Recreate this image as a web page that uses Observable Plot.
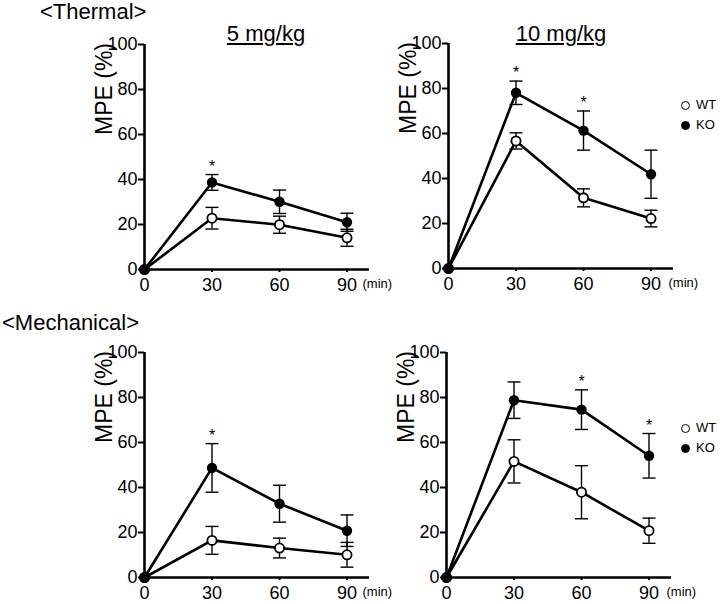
<!DOCTYPE html>
<html>
<head>
<meta charset="utf-8">
<script src="https://cdn.jsdelivr.net/npm/d3@7"></script>
<script src="https://cdn.jsdelivr.net/npm/@observablehq/plot@0.6"></script>
<style>
  html, body { margin: 0; padding: 0; background: white; }
  #root { position: relative; width: 720px; height: 604px; overflow: hidden; font-family: "Liberation Sans", Arial, Helvetica, sans-serif; color: black; }
  .abs { position: absolute; white-space: nowrap; }
  .sec { font-size: 22px; line-height: 24px; }
  .ttl { font-size: 22px; line-height: 22px; text-decoration: underline; text-underline-offset: 2px; text-decoration-thickness: 1.5px; transform: translateX(-50%); }
  .leg { font-size: 13px; line-height: 14px; display: flex; align-items: center; }
  .leg .c { display: inline-block; width: 7px; height: 7px; border: 1.5px solid black; border-radius: 50%; margin-right: 6px; background: white; }
  .leg .c.f { background: black; }
</style>
</head>
<body>
<div id="root"></div>
<script>
// ---- data ----
const times = [0, 30, 60, 90];
const yTicks = [0, 20, 40, 60, 80, 100];
const xTicks = [0, 30, 60, 90];

// Thermal, 5 mg/kg
const thermal5WT   = [0, 22.8, 19.9, 14.1];
const thermal5WTse = [0, 4.8, 3.8, 3.8];
const thermal5KO   = [0, 38.7, 30.1, 21.0];
const thermal5KOse = [0, 3.5, 5.2, 4.0];
const thermal5Star = [false, true, false, false];

// Thermal, 10 mg/kg
const thermal10WT   = [0, 56.7, 31.4, 22.2];
const thermal10WTse = [0, 3.6, 4.0, 3.7];
const thermal10KO   = [0, 78.1, 61.3, 41.9];
const thermal10KOse = [0, 5.2, 8.7, 10.7];
const thermal10Star = [false, true, true, false];

// Mechanical, 5 mg/kg
const mech5WT   = [0, 16.5, 13.1, 10.1];
const mech5WTse = [0, 6.2, 4.4, 5.5];
const mech5KO   = [0, 48.7, 32.8, 20.8];
const mech5KOse = [0, 10.8, 8.2, 7.0];
const mech5Star = [false, true, false, false];

// Mechanical, 10 mg/kg
const mech10WT   = [0, 51.6, 37.9, 20.8];
const mech10WTse = [0, 9.6, 11.8, 5.6];
const mech10KO   = [0, 78.8, 74.6, 54.1];
const mech10KOse = [0, 8.1, 8.8, 9.9];
const mech10Star = [false, false, true, true];

const sectionLabels = ["<Thermal>", "<Mechanical>"];
const doseLabels = ["5 mg/kg", "10 mg/kg"];
const groups = ["WT", "KO"];
const yLabel = "MPE (%)";
const xUnit = "(min)";

// ---- drawing ----
const root = document.getElementById("root");

const capSymbol = {
  draw(context, size) {
    const w = Math.sqrt(size / Math.PI);
    context.moveTo(-w, 0);
    context.lineTo(w, 0);
  }
};

const ML = 70, MR = 40, MT = 20, MB = 40, INNER = 225;

function rows(wt, wtSe, ko, koSe, star) {
  const out = [];
  times.forEach((t, i) => out.push({t, mean: wt[i], se: wtSe[i], group: "WT", star: false}));
  times.forEach((t, i) => out.push({t, mean: ko[i], se: koSe[i], group: "KO", star: star[i]}));
  return out;
}

function panel(data, left, top, minDx) {
  const withErr = data.filter(d => d.se > 0);
  const chart = Plot.plot({
    width: ML + INNER + MR,
    height: MT + INNER + MB,
    marginLeft: ML, marginRight: MR, marginTop: MT, marginBottom: MB,
    x: {domain: [0, 100], axis: null},
    y: {domain: [0, 100], axis: null},
    style: {fontFamily: '"Liberation Sans", Arial, Helvetica, sans-serif', fontSize: "18px", background: "transparent", overflow: "visible", color: "black"},
    marks: [
      Plot.axisY({ticks: yTicks, tickSize: 6, tickPadding: 1, label: null, strokeWidth: 2, fontSize: 18}),
      Plot.axisX({ticks: xTicks, tickSize: 3, tickPadding: 6, label: null, strokeWidth: 2, fontSize: 18}),
      Plot.ruleY([0], {stroke: "black", strokeWidth: 2.6}),
      Plot.ruleX([0], {stroke: "black", strokeWidth: 2.6}),
      Plot.line(data, {x: "t", y: "mean", z: "group", stroke: "black", strokeWidth: 2.6}),
      Plot.ruleX(withErr, {x: "t", y1: d => d.mean - d.se, y2: d => d.mean + d.se, stroke: "black", strokeWidth: 1.4}),
      Plot.dot(withErr, {x: "t", y: d => d.mean + d.se, symbol: capSymbol, r: 6.5, stroke: "black", strokeWidth: 1.4}),
      Plot.dot(withErr, {x: "t", y: d => d.mean - d.se, symbol: capSymbol, r: 6.5, stroke: "black", strokeWidth: 1.4}),
      Plot.dot(data.filter(d => d.group === "WT"), {x: "t", y: "mean", r: 4.6, fill: "white", stroke: "black", strokeWidth: 1.8}),
      Plot.dot(data.filter(d => d.group === "KO"), {x: "t", y: "mean", r: 5.2, fill: "black", stroke: "none"}),
      Plot.text(data.filter(d => d.star), {x: "t", y: d => d.mean + d.se, text: () => "*", dy: -8, fontSize: 16}),
      Plot.text([yLabel], {frameAnchor: "left", rotate: -90, dx: -40, dy: -22, fontSize: 23}),
      Plot.text([xUnit], {frameAnchor: "bottom-right", textAnchor: "start", dx: minDx, dy: 18, fontSize: 13})
    ]
  });
  chart.style.position = "absolute";
  chart.style.left = left + "px";
  chart.style.top = top + "px";
  root.appendChild(chart);
}

// axis x positions: 144 / 448 (top), 144 / 446 (bottom); y=100 at 44 (top) and 352 (bottom)
panel(rows(thermal5WT, thermal5WTse, thermal5KO, thermal5KOse, thermal5Star), 144 - ML, 44 - MT, -7);
panel(rows(thermal10WT, thermal10WTse, thermal10KO, thermal10KOse, thermal10Star), 448 - ML, 43 - MT, -5);
panel(rows(mech5WT, mech5WTse, mech5KO, mech5KOse, mech5Star), 144 - ML, 352 - MT, -7);
panel(rows(mech10WT, mech10WTse, mech10KO, mech10KOse, mech10Star), 446 - ML, 352 - MT, -5);

function addDiv(cls, text, left, top) {
  const d = document.createElement("div");
  d.className = "abs " + cls;
  d.textContent = text;
  d.style.left = left + "px";
  d.style.top = top + "px";
  root.appendChild(d);
  return d;
}

addDiv("sec", sectionLabels[0], 40, 0);
addDiv("sec", sectionLabels[1], 2, 311);
addDiv("ttl", doseLabels[0], 266, 23);
addDiv("ttl", doseLabels[1], 561, 23);

function legend(left, top) {
  groups.forEach((g, i) => {
    const d = document.createElement("div");
    d.className = "abs leg";
    d.style.left = left + "px";
    d.style.top = (top + i * 20) + "px";
    const c = document.createElement("span");
    c.className = "c" + (g === "KO" ? " f" : "");
    d.appendChild(c);
    d.appendChild(document.createTextNode(g));
    root.appendChild(d);
  });
}
legend(681, 98);
legend(681, 421);
</script>
</body>
</html>
